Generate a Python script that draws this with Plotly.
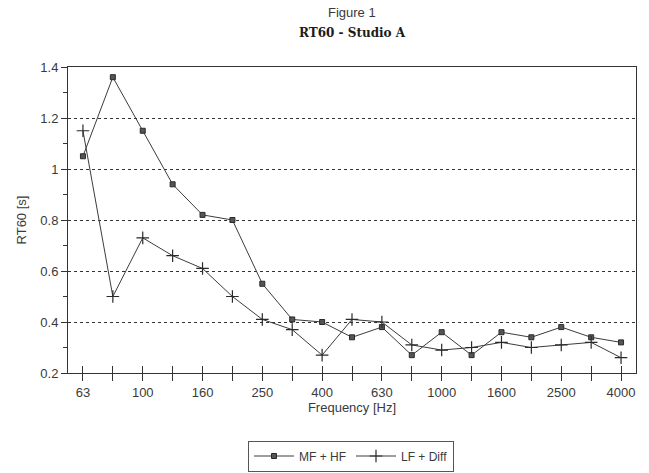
import plotly.graph_objects as go

freqs = ["63", "80", "100", "125", "160", "200", "250", "315", "400", "500",
         "630", "800", "1000", "1250", "1600", "2000", "2500", "3150", "4000"]
mf_hf = [1.05, 1.36, 1.15, 0.94, 0.82, 0.80, 0.55, 0.41, 0.40, 0.34,
         0.38, 0.27, 0.36, 0.27, 0.36, 0.34, 0.38, 0.34, 0.32]
lf_diff = [1.15, 0.50, 0.73, 0.66, 0.61, 0.50, 0.41, 0.37, 0.27, 0.41,
           0.40, 0.31, 0.29, 0.30, 0.32, 0.30, 0.31, 0.32, 0.26]
tick_labels = [f if i % 2 == 0 else "" for i, f in enumerate(freqs)]
y_ticks = [0.2, 0.4, 0.6, 0.8, 1.0, 1.2, 1.4]
y_tick_text = ["0.2", "0.4", "0.6", "0.8", "1", "1.2", "1.4"]

FONT = "Liberation Sans, Arial, sans-serif"
TXT = "#3a3a3a"

fig = go.Figure()
fig.add_trace(go.Scatter(
    x=freqs, y=mf_hf, name="MF + HF", mode="lines+markers",
    line=dict(color="#3c3c3c", width=1),
    marker=dict(symbol="square", size=5, color="#555555",
                line=dict(color="#2a2a2a", width=1)),
))
fig.add_trace(go.Scatter(
    x=freqs, y=lf_diff, name="LF + Diff", mode="lines+markers",
    line=dict(color="#3c3c3c", width=1),
    marker=dict(symbol="cross-thin", size=9,
                line=dict(color="#2a2a2a", width=1.2)),
))
# invisible helper trace for the inward tick marks axis
fig.add_trace(go.Scatter(
    x=freqs, y=mf_hf, xaxis="x2", mode="lines", opacity=0,
    showlegend=False, hoverinfo="skip",
))

fig.update_layout(
    width=649, height=473,
    margin=dict(l=68, r=13, t=67, b=100),
    paper_bgcolor="white", plot_bgcolor="white",
    font=dict(family=FONT, color=TXT, size=13),
    showlegend=True,
    legend=dict(orientation="h", x=351 / 649, xanchor="center", xref="container",
                y=1 - 456 / 473, yanchor="middle", yref="container",
                bordercolor="#555555", borderwidth=1,
                font=dict(size=12, color=TXT), itemwidth=40,
                tracegroupgap=0),
    xaxis=dict(type="category", categoryorder="array", categoryarray=freqs,
               range=[-0.5, 18.5], showgrid=False, automargin=False,
               tickmode="array", tickvals=freqs, ticktext=tick_labels,
               ticks="outside", ticklen=7, tickcolor="#333", tickwidth=1,
               showline=True, linecolor="#333", linewidth=1, mirror=True,
               tickfont=dict(size=13, color=TXT),
               title=dict(text="Frequency [Hz]", font=dict(size=13, color=TXT),
                          standoff=2)),
    xaxis2=dict(type="category", categoryorder="array", categoryarray=freqs,
                overlaying="x", anchor="y", side="bottom", automargin=False,
                range=[-0.5, 18.5], showgrid=False, showline=False,
                tickmode="array", tickvals=freqs, showticklabels=False,
                ticks="inside", ticklen=7, tickcolor="#333", tickwidth=1),
    yaxis=dict(range=[0.2, 1.4], tickmode="array", tickvals=y_ticks,
               ticktext=y_tick_text, automargin=False,
               showgrid=True, gridcolor="#333", gridwidth=1, griddash="3px,3px",
               ticks="outside", ticklen=6, tickcolor="#333",
               minor=dict(dtick=0.1, tick0=0.2, ticks="outside", ticklen=4,
                          tickcolor="#333", showgrid=False),
               showline=True, linecolor="#333", linewidth=1, mirror=True,
               zeroline=False,
               tickfont=dict(size=13, color=TXT),
               title=dict(text="RT60 [s]", font=dict(size=13, color=TXT),
                          standoff=10)),
)

fig.add_annotation(text="Figure 1", xref="paper", yref="paper",
                   x=0.5, y=(373 - 13) / 306, showarrow=False,
                   font=dict(family=FONT, size=13, color=TXT), yanchor="middle")
fig.add_annotation(text="<b>RT60 - Studio A</b>", xref="paper", yref="paper",
                   x=0.5, y=(373 - 33) / 306, showarrow=False,
                   font=dict(family="DejaVu Serif, serif", size=12, color="#1a1a1a"),
                   yanchor="middle")

fig.write_html("out.html", config={"displayModeBar": False})

# remove the browser's default page margin so the figure sits at (0, 0)
with open("out.html", "r", encoding="utf-8") as f:
    html = f.read()
html = html.replace("<head>", "<head><style>html,body{margin:0;padding:0;}</style>", 1)
with open("out.html", "w", encoding="utf-8") as f:
    f.write(html)
